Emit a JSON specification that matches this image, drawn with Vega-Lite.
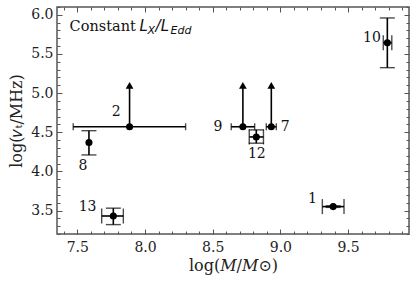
{
  "$schema": "https://vega.github.io/schema/vega-lite/v6.json",
  "width": 352,
  "height": 227,
  "autosize": "none",
  "padding": {"left": 57, "top": 7, "right": 6, "bottom": 49},
  "background": "white",
  "config": {
    "view": {"stroke": "#555555", "strokeWidth": 1.5},
    "axis": {"domain": false, "grid": false, "tickColor": "#555555", "tickWidth": 1, "labelFont": "DejaVu Serif", "labelFontSize": 14, "labelColor": "#222222", "titleFont": "DejaVu Serif", "titleFontSize": 16, "titleFontWeight": "normal", "titleColor": "#222222"}
  },
  "datasets": {
    "objs": [
      {"id": "1", "m": 9.39, "mlo": 9.31, "mhi": 9.47, "nu": 3.55, "nulo": 3.54, "nuhi": 3.56, "lim": false, "arrow": null, "lx": 9.236, "ly": 3.65},
      {"id": "2", "m": 7.886, "mlo": 7.47, "mhi": 8.30, "nu": 4.57, "nulo": null, "nuhi": null, "lim": true, "arrow": 5.10, "lx": 7.788, "ly": 4.76},
      {"id": "7", "m": 8.933, "mlo": 8.896, "mhi": 8.97, "nu": 4.57, "nulo": null, "nuhi": null, "lim": true, "arrow": 5.10, "lx": 9.036, "ly": 4.571},
      {"id": "8", "m": 7.586, "mlo": null, "mhi": null, "nu": 4.37, "nulo": 4.21, "nuhi": 4.52, "lim": false, "arrow": null, "lx": 7.541, "ly": 4.07},
      {"id": "9", "m": 8.723, "mlo": 8.637, "mhi": 8.81, "nu": 4.57, "nulo": null, "nuhi": null, "lim": true, "arrow": 5.10, "lx": 8.538, "ly": 4.571},
      {"id": "10", "m": 9.79, "mlo": 9.76, "mhi": 9.823, "nu": 5.644, "nulo": 5.325, "nuhi": 5.96, "lim": false, "arrow": null, "lx": 9.676, "ly": 5.703},
      {"id": "12", "m": 8.822, "mlo": 8.77, "mhi": 8.875, "nu": 4.44, "nulo": 4.36, "nuhi": 4.53, "lim": false, "arrow": null, "lx": 8.826, "ly": 4.219},
      {"id": "13", "m": 7.766, "mlo": 7.68, "mhi": 7.84, "nu": 3.43, "nulo": 3.32, "nuhi": 3.53, "lim": false, "arrow": null, "lx": 7.576, "ly": 3.551}
    ]
  },
  "data": {"name": "objs"},
  "resolve": {"axis": {"x": "independent", "y": "independent"}},
  "layer": [
    {
      "transform": [{"filter": "isValid(datum.mlo)"}],
      "mark": {"type": "rule", "color": "black", "strokeWidth": 1.6},
      "encoding": {
        "x": {"field": "mlo", "type": "quantitative", "scale": {"domain": [7.35, 9.95], "nice": false, "zero": false},
              "axis": {"orient": "bottom", "values": [7.4,7.5,7.6,7.7,7.8,7.9,8.0,8.1,8.2,8.3,8.4,8.5,8.6,8.7,8.8,8.9,9.0,9.1,9.2,9.3,9.4,9.5,9.6,9.7,9.8,9.9], "tickSize": -3, "labels": false, "title": null}},
        "x2": {"field": "mhi"},
        "y": {"field": "nu", "type": "quantitative", "scale": {"domain": [3.2, 6.1], "nice": false, "zero": false},
              "axis": {"orient": "left", "values": [3.2,3.3,3.4,3.5,3.6,3.7,3.8,3.9,4.0,4.1,4.2,4.3,4.4,4.5,4.6,4.7,4.8,4.9,5.0,5.1,5.2,5.3,5.4,5.5,5.6,5.7,5.8,5.9,6.0,6.1], "tickSize": -3, "labels": false, "title": null}}
      }
    },
    {
      "transform": [{"filter": "isValid(datum.nulo)"}],
      "mark": {"type": "rule", "color": "black", "strokeWidth": 1.6},
      "encoding": {
        "x": {"field": "m", "type": "quantitative",
              "axis": {"orient": "top", "values": [7.5,8.0,8.5,9.0,9.5], "tickSize": -5, "labels": false, "title": null}},
        "y": {"field": "nulo", "type": "quantitative",
              "axis": {"orient": "right", "values": [3.5,4.0,4.5,5.0,5.5,6.0], "tickSize": -5, "labels": false, "title": null}},
        "y2": {"field": "nuhi"}
      }
    },
    {
      "transform": [{"filter": "datum.lim"}],
      "mark": {"type": "rule", "color": "black", "strokeWidth": 1.6},
      "encoding": {
        "x": {"field": "m", "type": "quantitative",
              "axis": {"orient": "top", "values": [7.4,7.5,7.6,7.7,7.8,7.9,8.0,8.1,8.2,8.3,8.4,8.5,8.6,8.7,8.8,8.9,9.0,9.1,9.2,9.3,9.4,9.5,9.6,9.7,9.8,9.9], "tickSize": -3, "labels": false, "title": null}},
        "y": {"field": "nu", "type": "quantitative",
              "axis": {"orient": "right", "values": [3.2,3.3,3.4,3.5,3.6,3.7,3.8,3.9,4.0,4.1,4.2,4.3,4.4,4.5,4.6,4.7,4.8,4.9,5.0,5.1,5.2,5.3,5.4,5.5,5.6,5.7,5.8,5.9,6.0,6.1], "tickSize": -3, "labels": false, "title": null}},
        "y2": {"field": "arrow"}
      }
    },
    {
      "transform": [{"filter": "datum.lim"}],
      "mark": {"type": "point", "shape": "triangle-up", "filled": true, "color": "black", "opacity": 1, "size": 60},
      "encoding": {
        "x": {"field": "m", "type": "quantitative", "axis": null},
        "y": {"field": "arrow", "type": "quantitative", "axis": null}
      }
    },
    {
      "transform": [{"filter": "isValid(datum.mlo)"}, {"fold": ["mlo", "mhi"], "as": ["end", "xe"]}],
      "mark": {"type": "tick", "orient": "vertical", "color": "black", "thickness": 1.4},
      "encoding": {
        "x": {"field": "xe", "type": "quantitative", "axis": null},
        "y": {"field": "nu", "type": "quantitative", "axis": null},
        "size": {"field": "lim", "type": "nominal", "scale": {"domain": [false, true], "range": [15, 7]}, "legend": null}
      }
    },
    {
      "transform": [{"filter": "isValid(datum.nulo)"}, {"fold": ["nulo", "nuhi"], "as": ["end", "ye"]}],
      "mark": {"type": "tick", "orient": "horizontal", "color": "black", "thickness": 1.4, "size": 15},
      "encoding": {
        "x": {"field": "m", "type": "quantitative", "axis": null},
        "y": {"field": "ye", "type": "quantitative", "axis": null}
      }
    },
    {
      "mark": {"type": "circle", "color": "black", "opacity": 1, "size": 50},
      "encoding": {
        "x": {"field": "m", "type": "quantitative",
              "axis": {"orient": "bottom", "values": [7.5,8.0,8.5,9.0,9.5], "format": ".1f", "tickSize": -5, "labelPadding": 11, "title": "log(𝑀/𝑀⊙)", "titlePadding": 3}},
        "y": {"field": "nu", "type": "quantitative",
              "axis": {"orient": "left", "values": [3.5,4.0,4.5,5.0,5.5,6.0], "format": ".1f", "tickSize": -5, "labelPadding": 9, "title": "log(𝜈ₜ/MHz)", "titlePadding": 6}}
      }
    },
    {
      "mark": {"type": "text", "font": "DejaVu Serif", "fontSize": 14, "color": "#111111", "align": "center", "baseline": "middle"},
      "encoding": {
        "x": {"field": "lx", "type": "quantitative", "axis": null},
        "y": {"field": "ly", "type": "quantitative", "axis": null},
        "text": {"field": "id"}
      }
    },
    {
      "data": {"values": [{"t": "Constant"}]},
      "mark": {"type": "text", "font": "DejaVu Serif", "fontSize": 14.5, "color": "#111111", "align": "left", "baseline": "alphabetic"},
      "encoding": {"x": {"datum": 7.443, "type": "quantitative", "axis": null}, "y": {"datum": 5.79, "type": "quantitative", "axis": null}, "text": {"field": "t"}}
    },
    {
      "data": {"values": [{"t": "L"}]},
      "mark": {"type": "text", "font": "DejaVu Sans", "fontStyle": "italic", "fontSize": 15, "color": "#111111", "align": "left", "baseline": "alphabetic", "dx": 70},
      "encoding": {"x": {"datum": 7.443, "type": "quantitative", "axis": null}, "y": {"datum": 5.79, "type": "quantitative", "axis": null}, "text": {"field": "t"}}
    },
    {
      "data": {"values": [{"t": "X"}]},
      "mark": {"type": "text", "font": "DejaVu Sans", "fontStyle": "italic", "fontSize": 11, "color": "#111111", "align": "left", "baseline": "alphabetic", "dx": 78, "dy": 3},
      "encoding": {"x": {"datum": 7.443, "type": "quantitative", "axis": null}, "y": {"datum": 5.79, "type": "quantitative", "axis": null}, "text": {"field": "t"}}
    },
    {
      "data": {"values": [{"t": "/L"}]},
      "mark": {"type": "text", "font": "DejaVu Sans", "fontStyle": "italic", "fontSize": 15, "color": "#111111", "align": "left", "baseline": "alphabetic", "dx": 86},
      "encoding": {"x": {"datum": 7.443, "type": "quantitative", "axis": null}, "y": {"datum": 5.79, "type": "quantitative", "axis": null}, "text": {"field": "t"}}
    },
    {
      "data": {"values": [{"t": "Edd"}]},
      "mark": {"type": "text", "font": "DejaVu Sans", "fontStyle": "italic", "fontSize": 11, "color": "#111111", "align": "left", "baseline": "alphabetic", "dx": 101, "dy": 3},
      "encoding": {"x": {"datum": 7.443, "type": "quantitative", "axis": null}, "y": {"datum": 5.79, "type": "quantitative", "axis": null}, "text": {"field": "t"}}
    }
  ]
}
